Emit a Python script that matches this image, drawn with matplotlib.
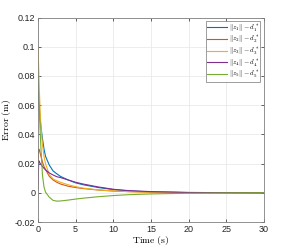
import matplotlib
matplotlib.use("Agg")
import matplotlib.pyplot as plt

plt.rcParams['mathtext.fontset'] = 'cm'
plt.rcParams['font.family'] = ['Liberation Sans', 'DejaVu Sans']

# time samples (s) and errors (m)
t = [0, 0.1, 0.2, 0.3, 0.4, 0.6, 0.8, 1.0, 1.5, 2, 2.5, 3, 4, 5, 6, 8, 10, 12, 15, 20, 25, 30]
err_z1 = [0.075, 0.065, 0.057, 0.050, 0.045, 0.037, 0.030, 0.025, 0.019, 0.015, 0.013, 0.0112,
          0.0088, 0.0068, 0.0055, 0.0036, 0.0022, 0.0013, 0.0006, 0.0002, 0.0001, 0.0]
err_z2 = [0.022, 0.030, 0.029, 0.027, 0.025, 0.021, 0.018, 0.016, 0.0113, 0.0088, 0.0072, 0.006,
          0.0045, 0.0036, 0.0029, 0.0019, 0.0012, 0.0008, 0.0004, 0.0001, 0.0, 0.0]
err_z3 = [0.100, 0.085, 0.068, 0.055, 0.045, 0.033, 0.025, 0.020, 0.0125, 0.0095, 0.0082, 0.0072,
          0.0055, 0.0042, 0.0032, 0.002, 0.0013, 0.0008, 0.0004, 0.0001, 0.0, 0.0]
err_z4 = [0.002, 0.022, 0.021, 0.020, 0.0195, 0.018, 0.0168, 0.0157, 0.0136, 0.0122, 0.011, 0.0104,
          0.0088, 0.0072, 0.006, 0.004, 0.0024, 0.0015, 0.0008, 0.0002, 0.0001, 0.0]
err_z5 = [0.080, 0.066, 0.054, 0.041, 0.030, 0.012, 0.004, 0.0005, -0.003, -0.0052, -0.0057, -0.0056,
          -0.005, -0.0043, -0.0037, -0.0027, -0.0019, -0.0013, -0.0008, -0.0003, -0.0001, 0.0]

series = [err_z1, err_z2, err_z3, err_z4, err_z5]
colors = ['#0072BD', '#D95319', '#EDB120', '#7E2F8E', '#77AC30']
labels = [r'$\|z_%d\| - d_%d^*$' % (i, i) for i in range(1, 6)]

xticks = [0, 5, 10, 15, 20, 25, 30]
yticks = [-0.02, 0, 0.02, 0.04, 0.06, 0.08, 0.1, 0.12]
ytick_labels = ['-0.02', '0', '0.02', '0.04', '0.06', '0.08', '0.1', '0.12']

fig = plt.figure(figsize=(2.92, 2.50), dpi=100)
ax = fig.add_axes([0.130, 0.112, 0.774, 0.818])

for y, c, lab in zip(series, colors, labels):
    ax.plot(t, y, color=c, lw=0.8, label=lab)

ax.set_xlim(0, 30)
ax.set_ylim(-0.02, 0.12)
ax.set_xticks(xticks)
ax.set_xticklabels([str(v) for v in xticks])
ax.set_yticks(yticks)
ax.set_yticklabels(ytick_labels)
ax.tick_params(direction='in', length=2.5, width=0.5, labelsize=6.5, colors='#262626',
               top=True, right=True, pad=2)
for s in ax.spines.values():
    s.set_color('#808080')
    s.set_linewidth(0.6)
ax.grid(True, color='#e6e6e6', lw=0.5)
ax.set_axisbelow(True)

ax.set_xlabel(r'$\mathrm{Time\ (s)}$', fontsize=7, labelpad=0)
ax.set_ylabel(r'$\mathrm{Error\ (m)}$', fontsize=7, labelpad=1)

leg = ax.legend(loc='upper right', fontsize=5, frameon=True, fancybox=False,
                handlelength=2.8, handletextpad=0.3, labelspacing=0.02,
                borderpad=0.2, borderaxespad=0.5)
leg.get_frame().set_edgecolor('#555555')
leg.get_frame().set_linewidth(0.5)

fig.savefig('out.png', dpi=100)
